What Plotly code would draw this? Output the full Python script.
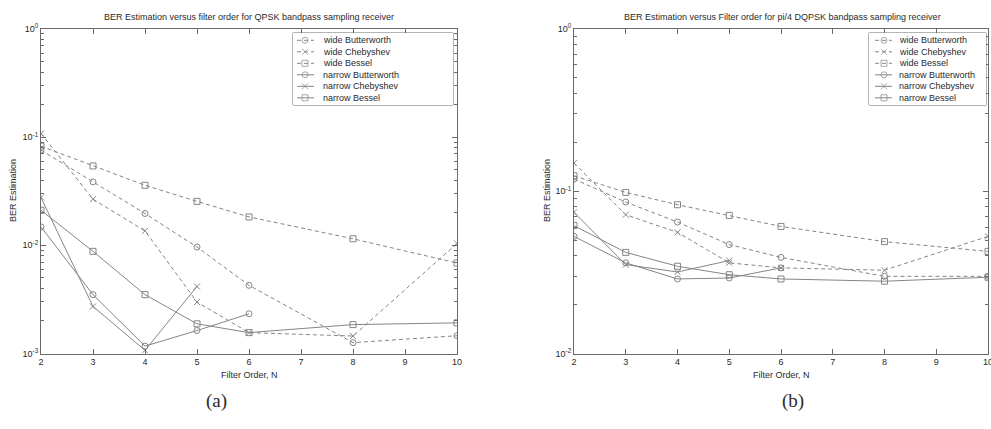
import plotly.graph_objects as go

W, H = 991, 429

# ---------------- data ----------------
SERIES_NAMES = ["wide Butterworth", "wide Chebyshev", "wide Bessel",
                "narrow Butterworth", "narrow Chebyshev", "narrow Bessel"]

N_WIDE = [2, 3, 4, 5, 6, 8, 10]
N_NARROW_BUTTER = [2, 3, 4, 5, 6]
N_NARROW_CHEBY = [2, 3, 4, 5]
N_NARROW_BESSEL = [2, 3, 4, 5, 6, 8, 10]

# (a) QPSK
A_WIDE_BUTTER = [0.0758, 0.0386, 0.0197, 0.00964, 0.00427, 0.00126, 0.00146]
A_WIDE_CHEBY = [0.108, 0.0267, 0.0136, 0.00299, 0.00156, 0.00145, 0.0104]
A_WIDE_BESSEL = [0.0826, 0.0542, 0.0359, 0.0255, 0.0183, 0.0115, 0.00686]
A_NARROW_BUTTER = [0.0148, 0.0035, 0.00117, 0.00163, 0.00233]
A_NARROW_CHEBY = [0.0277, 0.00272, 0.00107, 0.00417]
A_NARROW_BESSEL = [0.0211, 0.0088, 0.0035, 0.00188, 0.00156, 0.00185, 0.00192]

# (b) pi/4 DQPSK
B_WIDE_BUTTER = [0.1189, 0.0858, 0.0646, 0.0469, 0.0391, 0.0299, 0.0299]
B_WIDE_CHEBY = [0.149, 0.0717, 0.0558, 0.0362, 0.0337, 0.0326, 0.0527]
B_WIDE_BESSEL = [0.1245, 0.0984, 0.0826, 0.071, 0.0607, 0.0489, 0.0426]
B_NARROW_BUTTER = [0.0527, 0.0362, 0.0288, 0.0292, 0.0337]
B_NARROW_CHEBY = [0.0741, 0.0353, 0.0318, 0.0374]
B_NARROW_BESSEL = [0.0614, 0.042, 0.0345, 0.0306, 0.0288, 0.0279, 0.0295]

X_TICKS = [2, 3, 4, 5, 6, 7, 8, 9, 10]
A_Y_TICKS = [1e-3, 1e-2, 1e-1, 1]
A_Y_TICKTEXT = ["10<sup>-3</sup>", "10<sup>-2</sup>", "10<sup>-1</sup>", "10<sup>0</sup>"]
B_Y_TICKS = [1e-2, 1e-1, 1]
B_Y_TICKTEXT = ["10<sup>-2</sup>", "10<sup>-1</sup>", "10<sup>0</sup>"]

TITLE_A = "BER Estimation versus filter order for QPSK bandpass sampling receiver"
TITLE_B = "BER Estimation versus Filter order for pi/4 DQPSK bandpass sampling receiver"
X_TITLE = "Filter Order, N"
Y_TITLE = "BER Estimation"
PANEL_LABELS = ["(a)", "(b)"]

# ---------------- style ----------------
LINE_C = "#858585"
AX_C = "#6a6a6a"
TXT_C = "#2a2a2a"
FONT = "Arial, Liberation Sans, sans-serif"
DASH = "4px,3px"
STYLES = [  # (dash, symbol)
    (DASH, "circle-open"),
    (DASH, "x-thin-open"),
    (DASH, "square-open"),
    ("solid", "circle-open"),
    ("solid", "x-thin-open"),
    ("solid", "square-open"),
]


def px(x):
    return x / W


def py(y):
    return 1 - y / H


fig = go.Figure()

panels = [
    ("x", "y", [(N_WIDE, A_WIDE_BUTTER), (N_WIDE, A_WIDE_CHEBY), (N_WIDE, A_WIDE_BESSEL),
                (N_NARROW_BUTTER, A_NARROW_BUTTER), (N_NARROW_CHEBY, A_NARROW_CHEBY),
                (N_NARROW_BESSEL, A_NARROW_BESSEL)]),
    ("x2", "y2", [(N_WIDE, B_WIDE_BUTTER), (N_WIDE, B_WIDE_CHEBY), (N_WIDE, B_WIDE_BESSEL),
                  (N_NARROW_BUTTER, B_NARROW_BUTTER), (N_NARROW_CHEBY, B_NARROW_CHEBY),
                  (N_NARROW_BESSEL, B_NARROW_BESSEL)]),
]

for xa, ya, series in panels:
    for (xs, ys), name, (dash, sym) in zip(series, SERIES_NAMES, STYLES):
        fig.add_trace(go.Scatter(
            x=xs, y=ys, name=name, mode="lines+markers", xaxis=xa, yaxis=ya,
            showlegend=False,
            line=dict(color=LINE_C, width=1, dash=dash),
            marker=dict(symbol=sym, size=6, color=LINE_C, line=dict(color=LINE_C, width=1)),
        ))

# ---------------- custom legends (compact, MATLAB-like) ----------------
LEG_TOP, LEG_BOT = 33, 105
legends = [
    ("x3", "y3", 293, 453, 4, 12, 21),
    ("x4", "y4", 869, 986, 6, 15, 23),
]
for xa, ya, left, right, l0, lm, l1 in legends:
    for i, (name, (dash, sym)) in enumerate(zip(SERIES_NAMES, STYLES)):
        yy = 7.3 + 11.5 * i
        fig.add_trace(go.Scatter(
            x=[l0, lm, l1], y=[yy, yy, yy], mode="lines+markers", xaxis=xa, yaxis=ya,
            showlegend=False, hoverinfo="skip",
            line=dict(color=LINE_C, width=1, dash=dash),
            marker=dict(symbol=sym, size=[0, 6, 0], color=LINE_C,
                        line=dict(color=LINE_C, width=1)),
        ))
        fig.add_annotation(x=28, y=yy, xref=xa, yref=ya, text=name, showarrow=False,
                           xanchor="left", yanchor="middle",
                           font=dict(size=9, color=TXT_C, family=FONT))
    fig.add_shape(type="rect", xref="paper", yref="paper",
                  x0=px(left), x1=px(right), y0=py(LEG_BOT), y1=py(LEG_TOP),
                  line=dict(color=AX_C, width=1), fillcolor="white", layer="below")

# ---------------- axes ----------------
common = dict(showline=True, linecolor=AX_C, linewidth=1, mirror="ticks",
              ticks="inside", ticklen=5, tickcolor=AX_C, tickwidth=1,
              showgrid=False, zeroline=False, ticklabeloverflow="allow",
              tickfont=dict(size=9, color=TXT_C, family=FONT))


def minor_vals(decades):
    return [m * 10.0 ** d for d in decades for m in range(2, 10)]


YDOM = [py(353.5), py(29)]
fig.update_layout(
    xaxis=dict(domain=[px(41), px(457)], range=[2, 10], anchor="y",
               tickmode="array", tickvals=X_TICKS, **common),
    yaxis=dict(domain=YDOM, type="log", range=[-3, 0], anchor="x",
               tickmode="array", tickvals=A_Y_TICKS, ticktext=A_Y_TICKTEXT,
               minor=dict(tickmode="array", tickvals=minor_vals([-3, -2, -1]),
                          ticks="inside", ticklen=3, tickcolor=AX_C, showgrid=False),
               **common),
    xaxis2=dict(domain=[px(574), px(988)], range=[2, 10], anchor="y2",
                tickmode="array", tickvals=X_TICKS, **common),
    yaxis2=dict(domain=YDOM, type="log", range=[-2, 0], anchor="x2",
                tickmode="array", tickvals=B_Y_TICKS, ticktext=B_Y_TICKTEXT,
                minor=dict(tickmode="array", tickvals=minor_vals([-2, -1]),
                           ticks="inside", ticklen=3, tickcolor=AX_C, showgrid=False),
                **common),
    xaxis3=dict(domain=[px(293), px(453)], range=[0, 160], visible=False, fixedrange=True),
    yaxis3=dict(domain=[py(LEG_BOT), py(LEG_TOP)], range=[72, 0], visible=False,
                anchor="x3", fixedrange=True),
    xaxis4=dict(domain=[px(869), px(986)], range=[0, 117], visible=False, fixedrange=True),
    yaxis4=dict(domain=[py(LEG_BOT), py(LEG_TOP)], range=[72, 0], visible=False,
                anchor="x4", fixedrange=True),
)

# ---------------- titles / labels ----------------
def ann(text, x, y, size=9, angle=0, family=FONT):
    fig.add_annotation(text=text, x=px(x), y=py(y), xref="paper", yref="paper",
                       showarrow=False, xanchor="center", yanchor="middle",
                       textangle=angle, font=dict(size=size, color=TXT_C, family=family))


ann(TITLE_A, 249, 17)
ann(TITLE_B, 782, 17)
ann(X_TITLE, 249, 375)
ann(X_TITLE, 781, 375)
ann(Y_TITLE, 13, 191, angle=-90)
ann(Y_TITLE, 547, 191, angle=-90)
ann(PANEL_LABELS[0], 216, 401, size=19, family="Liberation Serif, Times New Roman, serif")
ann(PANEL_LABELS[1], 793, 401, size=19, family="Liberation Serif, Times New Roman, serif")

fig.update_layout(
    width=W, height=H, autosize=False,
    margin=dict(l=0, r=0, t=0, b=0),
    paper_bgcolor="white", plot_bgcolor="white",
    template="none", showlegend=False,
    font=dict(family=FONT, size=9, color=TXT_C),
)

fig.write_html("out.html")
